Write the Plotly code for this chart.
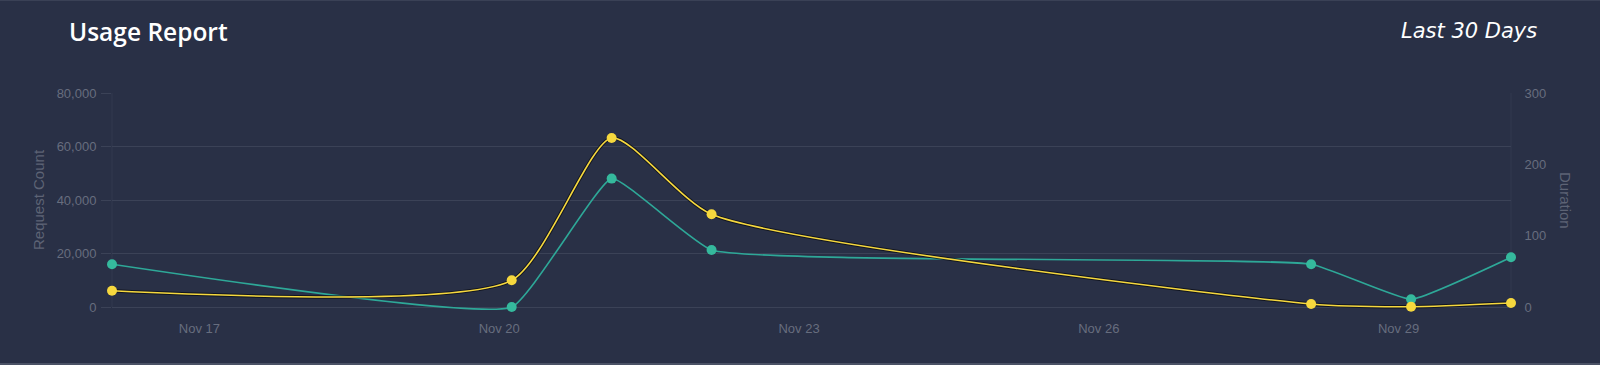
import plotly.graph_objects as go

# ---- data ----
dates = ["2024-11-16 03:00", "2024-11-20 03:00", "2024-11-21 03:00", "2024-11-22 03:00",
         "2024-11-28 03:00", "2024-11-29 03:00", "2024-11-30 03:00"]
request_count = [16000, 0, 48000, 21300, 16000, 2900, 18600]
duration = [22.8, 37.4, 237, 130, 4.2, 0.4, 5.6]
left_ticks = [0, 20000, 40000, 60000, 80000]
right_ticks = [0, 100, 200, 300]

BG = "#293046"
GRID = "#3b4257"
TXT = "#676d7e"
TEAL = "#35b99d"
TEAL_LINE = "#2ea898"
YELLOW = "#f6d83e"

# plot area: x 112..1511, y 93..307 (value 0), extended 10px below 0 so curves are not clipped
L, R, T, B = 112, 89, 93, 48
EXT = 10
PW = 1600 - L - R
PH = 365 - T - B
LEFT_MAX, RIGHT_MAX = 80000, 300
left_min = -LEFT_MAX * EXT / (PH - EXT)
right_min = -RIGHT_MAX * EXT / (PH - EXT)

def px_x(x):
    return (x - L) / PW

def px_y(y):
    return (365 - B - y) / PH

fig = go.Figure()

fig.add_trace(go.Scatter(
    x=dates, y=request_count, yaxis="y", name="Request Count",
    mode="lines+markers", line=dict(color=TEAL_LINE, width=1.6, shape="spline", smoothing=0.35),
    marker=dict(color=TEAL, size=10), cliponaxis=False, hoverinfo="skip", showlegend=False))

# dark shadow under yellow line
fig.add_trace(go.Scatter(
    x=dates, y=duration, yaxis="y2", mode="lines",
    line=dict(color="rgba(10,12,20,0.75)", width=3.5, shape="spline", smoothing=0.6),
    hoverinfo="skip", showlegend=False))
fig.add_trace(go.Scatter(
    x=dates, y=duration, yaxis="y2", name="Duration",
    mode="lines+markers", line=dict(color=YELLOW, width=1.6, shape="spline", smoothing=0.6),
    marker=dict(color=YELLOW, size=10), cliponaxis=False, hoverinfo="skip", showlegend=False))

tickfont = dict(family="Liberation Sans, Arial, sans-serif", size=13, color=TXT)

fig.update_layout(
    width=1600, height=365,
    margin=dict(l=L, r=R, t=T, b=B, autoexpand=False),
    paper_bgcolor=BG, plot_bgcolor=BG,
    showlegend=False,
    xaxis=dict(
        type="date", range=[dates[0], dates[-1]],
        tick0="2024-11-17", dtick=3 * 86400000, tickformat="%b %d",
        showgrid=False, zeroline=False, showline=False,
        anchor="free", position=EXT / PH,
        ticks="outside", ticklen=9, tickcolor="rgba(0,0,0,0)",
        tickfont=tickfont),
    yaxis=dict(
        range=[left_min, LEFT_MAX], tickvals=left_ticks, tickformat=",",
        showgrid=True, gridcolor=GRID, gridwidth=1, zeroline=False,
        showline=False,
        ticks="outside", ticklen=10, tickcolor=GRID,
        tickfont=tickfont, ticklabelstandoff=2),
    yaxis2=dict(
        range=[right_min, RIGHT_MAX], tickvals=right_ticks, overlaying="y", side="right",
        showgrid=False, zeroline=False, showline=False,
        ticks="outside", ticklen=10, tickcolor="rgba(0,0,0,0)",
        tickfont=tickfont),
)

# faint axis lines (from 0 to top)
for xp in (0, 1):
    fig.add_shape(type="line", xref="paper", yref="y", x0=xp, x1=xp, y0=0, y1=LEFT_MAX,
                  line=dict(color="rgba(60,67,88,0.55)", width=1), layer="below")

annos = [
    dict(text="Usage Report", x=px_x(67), y=px_y(32), xanchor="left", yanchor="middle",
         font=dict(family="Open Sans, sans-serif", size=24.5, color="#ffffff", weight=600)),
    dict(text="<i>Last 30 Days</i>", x=px_x(1539), y=px_y(31), xanchor="right", yanchor="middle",
         font=dict(family="DejaVu Sans, sans-serif", size=21, color="#ffffff")),
    dict(text="Request Count", x=px_x(38), y=px_y(200), xanchor="center", yanchor="middle",
         textangle=-90, font=dict(family="Liberation Sans, Arial, sans-serif", size=15, color="#5d6375")),
    dict(text="Duration", x=px_x(1566), y=px_y(200), xanchor="center", yanchor="middle",
         textangle=90, font=dict(family="Liberation Sans, Arial, sans-serif", size=15, color="#5d6375")),
]
for a in annos:
    a.update(xref="paper", yref="paper", showarrow=False)
    fig.add_annotation(**a)

# card border lines top and bottom
fig.add_shape(type="line", xref="paper", yref="paper", x0=px_x(0), x1=px_x(1600),
              y0=px_y(0.5), y1=px_y(0.5), line=dict(color="#3a4156", width=1), layer="below")
fig.add_shape(type="line", xref="paper", yref="paper", x0=px_x(0), x1=px_x(1600),
              y0=px_y(364), y1=px_y(364), line=dict(color="#4a5165", width=2), layer="below")

fig.write_html("out.html", config={"displayModeBar": False},
               post_script="document.body.style.margin='0';document.body.style.overflow='hidden';")
